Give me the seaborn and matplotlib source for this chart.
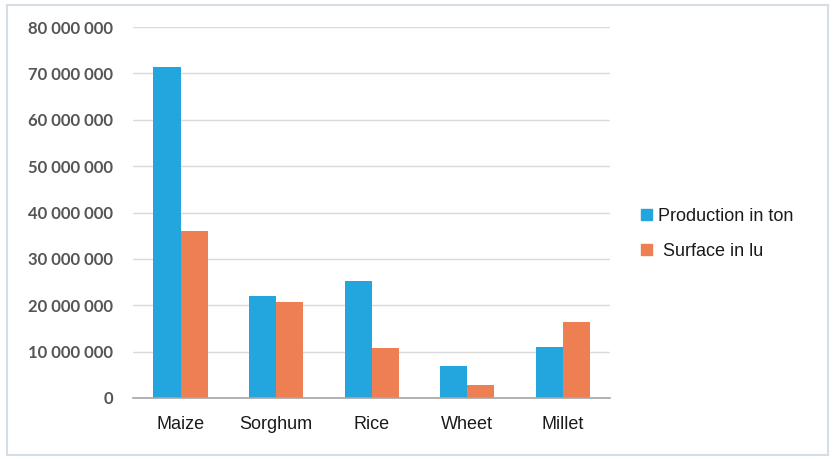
import matplotlib
matplotlib.use("Agg")
import matplotlib.pyplot as plt
import matplotlib.patches as mpatches
from matplotlib.ticker import FuncFormatter, MultipleLocator
import pandas as pd
import seaborn as sns

crops = ["Maize", "Sorghum", "Rice", "Wheet", "Millet"]
production_ton = [71_300_000, 22_000_000, 25_200_000, 6_900_000, 11_000_000]
surface_lu = [36_000_000, 20_700_000, 10_800_000, 2_800_000, 16_400_000]
series_names = ["Production in ton", "Surface in lu"]
series_colors = ["#23A6DD", "#EE7F52"]

df = pd.DataFrame({
    "crop": crops * 2,
    "value": production_ton + surface_lu,
    "series": [series_names[0]] * len(crops) + [series_names[1]] * len(crops),
})

sns.set_theme(style="white")
plt.rcParams["font.family"] = ["Liberation Sans", "DejaVu Sans"]

fig = plt.figure(figsize=(8.35, 4.59), dpi=100)
ax = fig.add_axes([0.159, 0.133, 0.572, 0.808])

sns.barplot(data=df, x="crop", y="value", hue="series", order=crops,
            hue_order=series_names, palette=series_colors, width=0.566,
            saturation=1, linewidth=0, ax=ax, legend=False)

ax.set_ylim(0, 80_000_000)
ax.set_xlim(-0.5, 4.5)
ax.yaxis.set_major_locator(MultipleLocator(10_000_000))
ax.yaxis.set_major_formatter(FuncFormatter(lambda v, _: f"{v:,.0f}".replace(",", " ")))
ax.grid(axis="y", color="#DADADA", linewidth=1.0)
ax.set_axisbelow(True)
for side in ["top", "right", "left"]:
    ax.spines[side].set_visible(False)
ax.spines["bottom"].set_color("#A6A6A6")
ax.spines["bottom"].set_linewidth(1.2)
ax.set_xlabel("")
ax.set_ylabel("")
ax.tick_params(axis="y", length=0, pad=14, labelsize=12, labelcolor="#555555")
ax.tick_params(axis="x", length=0, pad=13, labelsize=13, labelcolor="#1A1A1A")
for lbl in ax.get_yticklabels():
    lbl.set_fontfamily(["Lato", "DejaVu Sans"])
    lbl.set_fontweight("bold")

handles = [mpatches.Patch(color=c) for c in series_colors]
fig.legend(handles, [series_names[0], " " + series_names[1]],
           loc="center left", bbox_to_anchor=(0.768, 0.49), frameon=False,
           borderpad=0, borderaxespad=0,
           handlelength=0.6, handleheight=0.6, handletextpad=0.3,
           labelspacing=1.0, fontsize=13, labelcolor="#1A1A1A")

# light frame around the whole chart area
fig.patches.append(mpatches.Rectangle((0.008, 0.008), 0.984, 0.982,
                                      transform=fig.transFigure, fill=False,
                                      edgecolor="#D5DEE4", linewidth=1.5))

fig.savefig("out.png", dpi=100, facecolor="white")
